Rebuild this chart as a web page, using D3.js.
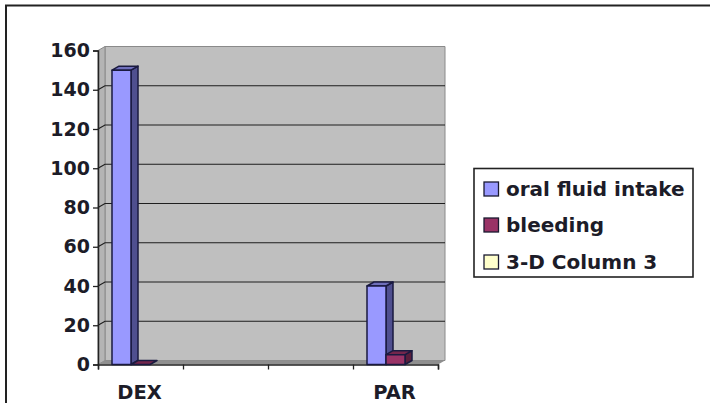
<!DOCTYPE html>
<html><head><meta charset="utf-8">
<script src="https://cdnjs.cloudflare.com/ajax/libs/d3/7.8.5/d3.min.js"></script>
<style>html,body{margin:0;padding:0;background:#fff}svg{display:block}text{font-family:"DejaVu Sans",sans-serif;font-weight:700;fill:#1c1c28}</style>
</head><body><svg id="c" width="710" height="403"></svg>
<script>
const categories = ["DEX", "", "", "PAR"];
const seriesNames = ["oral fluid intake", "bleeding", "3-D Column 3"];
const oralFluidIntake = [150, null, null, 40];
const bleeding = [0, null, null, 5];
const column3 = [null, null, null, null];
const yTicks = [0, 20, 40, 60, 80, 100, 120, 140, 160];
const colors = ["#9999ff", "#993366", "#ffffcc"];
const sideColors = ["#4f4f8f", "#5a1e3c", "#8f8f70"];
const topColors = ["#6f6fbb", "#74264c", "#c0c098"];

const svg = d3.select("#c");
const dx = 7, dy = -4;
const x = d3.scaleBand().domain(d3.range(categories.length)).range([98, 438]);
const y = d3.scaleLinear().domain([0, 160]).range([364.5, 50.5]);
const inner = d3.scaleBand().domain(d3.range(3)).range([14, 71]);

svg.append("rect").attr("x",6).attr("y",5.5).attr("width",760).attr("height",420)
  .attr("fill","#fff").attr("stroke","#222").attr("stroke-width",2);

// walls
const x0 = x.range()[0], x1 = x.range()[1];
svg.append("polygon").attr("fill","#bfbfbf").attr("stroke","#8a8a8a")
  .attr("points",[[x0+dx,y(160)+dy],[x1+dx,y(160)+dy],[x1+dx,y(0)+dy],[x0+dx,y(0)+dy]].join(" "));
svg.append("polygon").attr("fill","#b4b4b4").attr("stroke","#8a8a8a")
  .attr("points",[[x0,y(160)],[x0+dx,y(160)+dy],[x0+dx,y(0)+dy],[x0,y(0)]].join(" "));
svg.append("polygon").attr("fill","#8f8f8f")
  .attr("points",[[x0,y(0)],[x0+dx,y(0)+dy],[x1+dx,y(0)+dy],[x1,y(0)]].join(" "));

// gridlines
yTicks.slice(1,-1).forEach(t=>{
  svg.append("path").attr("fill","none").attr("stroke","#1e1e1e").attr("stroke-width",1.2)
    .attr("d",`M${x0},${y(t)}L${x0+dx},${y(t)+dy}L${x1+dx},${y(t)+dy}`);
});

// axes
const ya = svg.append("g").attr("transform",`translate(${x0},0)`)
  .call(d3.axisLeft(y).tickValues(yTicks).tickSize(5).tickPadding(3));
ya.selectAll("text").style("font-size","19px").style("font-family",'"DejaVu Sans",sans-serif').style("font-weight","700");
const xa = svg.append("g").attr("transform",`translate(0,${y(0)})`)
  .call(d3.axisBottom(d3.scaleLinear().domain([0,4]).range([x0,x1])).ticks(4).tickSize(5).tickFormat(""));
svg.selectAll(".domain").attr("stroke","#222").attr("stroke-width",1.5);
svg.selectAll(".tick line").attr("stroke","#222").attr("stroke-width",1.3);

svg.selectAll("text.cat").data(categories).join("text").attr("class","cat")
  .attr("x",(d,i)=>x(i)+x.bandwidth()/2 - 1).attr("y",399).attr("text-anchor","middle")
  .style("font-size","19.5px").text(d=>d);

// 3-D bars
function bar(i,s,v){
  if(v==null) return;
  const w = inner.bandwidth();
  const l = x(i)+inner(s), r = l+w, t = y(v), b = y(0);
  const g = svg.append("g").attr("stroke","#1a1a40").attr("stroke-width",1.5).attr("stroke-linejoin","round");
  if(v>0) g.append("polygon").attr("fill",sideColors[s]).attr("points",[[r,t],[r+dx,t+dy],[r+dx,b+dy],[r,b]].join(" "));
  g.append("polygon").attr("fill",topColors[s]).attr("points",[[l,t],[l+dx,t+dy],[r+dx,t+dy],[r,t]].join(" "));
  if(v>0) g.append("rect").attr("x",l).attr("y",t).attr("width",w).attr("height",b-t).attr("fill",colors[s]);
}
[oralFluidIntake,bleeding,column3].forEach((vals,s)=>vals.forEach((v,i)=>bar(i,s,v)));

// legend
svg.append("rect").attr("x",474).attr("y",168.5).attr("width",219).attr("height",108.5).attr("fill","#fff").attr("stroke","#222").attr("stroke-width",1.6);
const rows=[189,225,262];
const leg=svg.selectAll("g.leg").data(seriesNames).join("g").attr("class","leg");
leg.append("rect").attr("x",484).attr("y",(d,i)=>rows[i]-7).attr("width",14.5).attr("height",14)
  .attr("fill",(d,i)=>colors[i]).attr("stroke","#1a1a30").attr("stroke-width",1.3);
leg.append("text").attr("x",506).attr("y",(d,i)=>rows[i]+7).style("font-size","20px").text(d=>d);
</script></body></html>
